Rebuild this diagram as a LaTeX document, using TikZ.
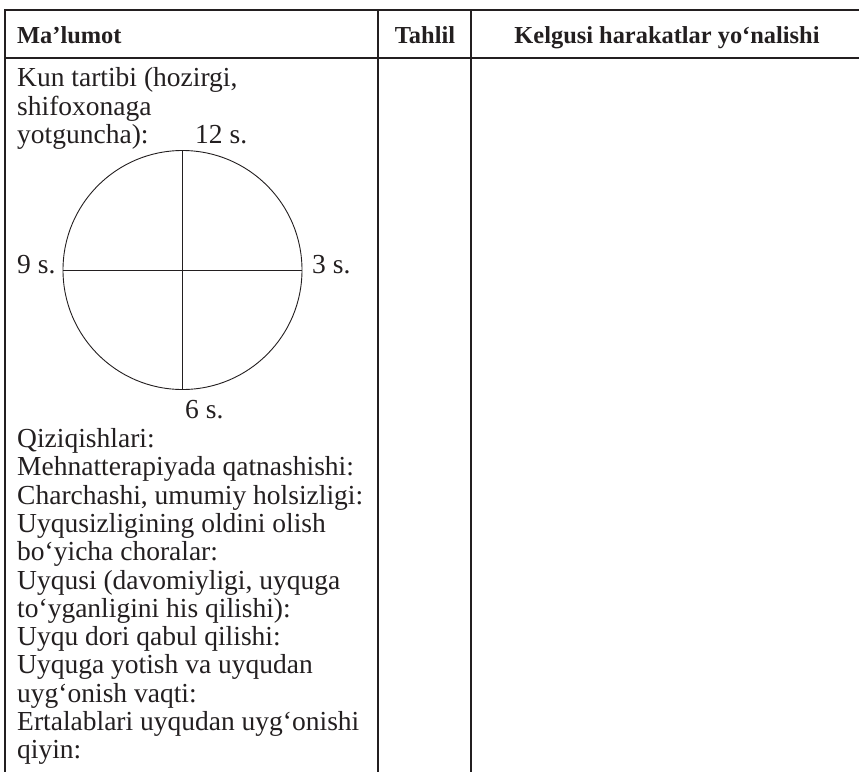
\documentclass[tikz,border=0pt]{standalone}
\usepackage{fontspec}
\setmainfont{Liberation Serif}
\definecolor{ink}{HTML}{231F20}
\begin{document}
\begin{tikzpicture}[x=1pt,y=-1pt,
  rule/.style={draw=ink,line width=1.8pt},
  thin/.style={draw=ink,line width=0.9pt},
  body/.style={anchor=base west,inner sep=0pt,text=ink,font=\fontsize{27.5}{28.3}\selectfont},
  head/.style={anchor=base,inner sep=0pt,text=ink,font=\fontsize{24.4}{26}\selectfont\bfseries}]
\useasboundingbox (0,0) rectangle (859,772);
% table grid
\coordinate (tl) at (4,10);
\coordinate (tr) at (859,10);
\coordinate (hl) at (4,58);
\coordinate (hr) at (859,58);
\coordinate (lb) at (5,772);
\coordinate (lt) at (5,9.1);
\coordinate (m1t) at (378,10);
\coordinate (m1b) at (378,772);
\coordinate (m2t) at (471,10);
\coordinate (m2b) at (471,772);
\draw[rule] (tl) -- (tr);
\draw[rule] (hl) -- (hr);
\draw[rule] (lt) -- (lb);
\draw[rule] (m1t) -- (m1b);
\draw[rule] (m2t) -- (m2b);
% header
\node[head,anchor=base west] (h1) at (17,43) {Ma’lumot};
\node[head] (h2) at (425,43) {Tahlil};
\node[head] (h3) at (667,43) {Kelgusi harakatlar yo‘nalishi};
% first lines
\node[body] (t1) at (17,86.7) {Kun tartibi (hozirgi,};
\node[body] (t2) at (17,115) {shifoxonaga};
\node[body] (t3) at (17,143.5) {yotguncha):};
\node[body] (c12) at (195,143.5) {12 s.};
% clock
\node[thin,circle,minimum size=239pt,inner sep=0pt] (clock) at (182.5,270) {};
\draw[thin] (clock.north) -- (clock.south);
\draw[thin] (clock.west) -- (clock.east);
\node[body] (c9) at (17,273) {9 s.};
\node[body] (c3) at (312,273) {3 s.};
\node[body] (c6) at (185,418) {6 s.};
% remaining lines
\node[body] (r1) at (17,447.5) {Qiziqishlari:};
\node[body] (r2) at (17,475.8) {Mehnatterapiyada qatnashishi:};
\node[body] (r3) at (17,504.1) {Charchashi, umumiy holsizligi:};
\node[body] (r4) at (17,532.4) {Uyqusizligining oldini olish};
\node[body] (r5) at (17,560.7) {bo‘yicha choralar:};
\node[body] (r6) at (17,589.0) {Uyqusi (davomiyligi, uyquga};
\node[body] (r7) at (17,617.3) {to‘yganligini his qilishi):};
\node[body] (r8) at (17,645.6) {Uyqu dori qabul qilishi:};
\node[body] (r9) at (17,673.9) {Uyquga yotish va uyqudan};
\node[body] (r10) at (17,702.2) {uyg‘onish vaqti:};
\node[body] (r11) at (17,730.5) {Ertalablari uyqudan uyg‘onishi};
\node[body] (r12) at (17,758.8) {qiyin:};
\end{tikzpicture}
\end{document}
